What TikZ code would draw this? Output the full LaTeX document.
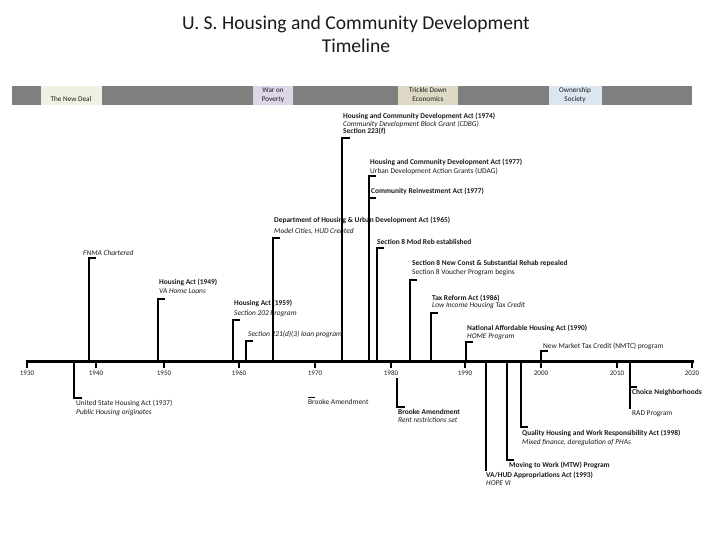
\documentclass[tikz,border=0pt]{standalone}
\usepackage{fontspec}
\setmainfont{Carlito}
\definecolor{bandgray}{HTML}{7F7F7F}
\definecolor{newdeal}{HTML}{EEF2E0}
\definecolor{waronpov}{HTML}{DDD5E8}
\definecolor{trickle}{HTML}{DDD9C4}
\definecolor{ownsoc}{HTML}{DCE6F1}
\definecolor{txt}{HTML}{1A1A1A}
\tikzset{
  lbl/.style={font=\fontsize{7.4}{8}\selectfont, text=txt, anchor=west, inner sep=0pt, text height=5pt, text depth=1.5pt},
  lblb/.style={lbl, font=\fontsize{7.4}{8}\selectfont\bfseries},
  lbli/.style={lbl, font=\fontsize{7.4}{8}\selectfont\itshape},
  bandtxt/.style={font=\fontsize{7.2}{8}\selectfont, text=txt, inner sep=0pt, text height=5pt, text depth=1.5pt},
  yearlbl/.style={font=\fontsize{7}{8}\selectfont, text=txt, inner sep=0pt, text height=4.8pt, text depth=0pt},
  conn/.style={draw=black, line width=1.5pt},
  connthick/.style={draw=black, line width=2.5pt},
  tick/.style={draw=black, line width=2.6pt},
}
\begin{document}
\begin{tikzpicture}[x=1pt, y=-1pt]
\useasboundingbox (0,0) rectangle (720,540);
\fill[white] (0,0) rectangle (720,540);
% title
\node[font=\fontsize{19.6}{23}\selectfont, text=txt, align=center, inner sep=0pt] (title) at (356,34) {U. S. Housing and Community Development\\Timeline};
% band
\fill[bandgray] (12,86) rectangle (692,105);
\fill[newdeal] (41,86) rectangle (102,105);
\fill[waronpov] (253,86) rectangle (293,105);
\fill[trickle] (398,86) rectangle (458,105);
\fill[ownsoc] (549,86) rectangle (602,105);
\node[bandtxt] (nd) at (71,100) {The New Deal};
\node[bandtxt] (wp1) at (273,91) {War on};
\node[bandtxt] (wp2) at (273,100) {Poverty};
\node[bandtxt] (te1) at (428,91) {Trickle Down};
\node[bandtxt] (te2) at (428,100) {Economics};
\node[bandtxt] (os1) at (575,91) {Ownership};
\node[bandtxt] (os2) at (575,100) {Society};
% axis
\coordinate (axL) at (26,361);
\coordinate (axR) at (694,361);
\draw[line width=3pt] (axL) -- (axR);
\foreach \yr/\xx in {1930/27,1940/96,1950/164,1960/239,1970/315,1980/391,1990/465,2000/541,2010/617,2020/692}{
  \coordinate (tk\yr) at (\xx,361);
  \coordinate (tb\yr) at (\xx,368);
  \draw[tick] (tk\yr) -- (tb\yr);
  \node[yearlbl] (yl\yr) at (\xx,373) {\yr};
}
% upper events
\coordinate (a38) at (89,361); \coordinate (c38) at (96,258);
\draw[conn] (a38) |- (c38);
\node[lbli] (t38) at (83,254) {FNMA Chartered};

\coordinate (a49) at (158,361); \coordinate (c49) at (165,299);
\draw[conn] (a49) |- (c49);
\node[lblb] (t49a) at (159,283) {Housing Act (1949)};
\node[lbli] (t49b) at (159,292) {VA Home Loans};

\coordinate (a59) at (233,361); \coordinate (c59) at (240,320);
\draw[conn] (a59) |- (c59);
\node[lblb] (t59a) at (234,304) {Housing Act (1959)};
\node[lbli] (t59b) at (234,314) {Section 202 Program};

\coordinate (a61) at (246,361); \coordinate (c61) at (253,341);
\draw[conn] (a61) |- (c61);
\node[lbli] (t61) at (248,335) {Section 221(d)(3) loan program};

\coordinate (a65) at (273,361); \coordinate (c65) at (280,238);
\draw[conn] (a65) |- (c65);
\node[lblb] (t65a) at (274,221) {Department of Housing \& Urban Development Act (1965)};
\node[lbli] (t65b) at (274,232) {Model Cities, HUD Created};

\coordinate (a74) at (342,361); \coordinate (c74) at (350,138);
\draw[connthick] (a74) |- (c74);
\node[lblb] (t74a) at (343,117) {Housing and Community Development Act (1974)};
\node[lbli] (t74b) at (343,125) {Community Development Block Grant (CDBG)};
\node[lblb] (t74c) at (343,132) {Section 223(f)};

\coordinate (a77) at (369,361); \coordinate (c77) at (376,176);
\draw[conn] (a77) |- (c77);
\node[lblb] (t77a) at (370,163) {Housing and Community Development Act (1977)};
\node[lbl] (t77b) at (370,172) {Urban Development Action Grants (UDAG)};

\coordinate (a77b) at (369,361); \coordinate (c77b) at (376,198);
\draw[conn] (a77b) |- (c77b);
\node[lblb] (t77c) at (371,192) {Community Reinvestment Act (1977)};

\coordinate (a78) at (377,361); \coordinate (c78) at (384,248);
\draw[conn] (a78) |- (c78);
\node[lblb] (t78) at (377,243) {Section 8 Mod Reb established};

\coordinate (a83) at (410,361); \coordinate (c83) at (417,280);
\draw[conn] (a83) |- (c83);
\node[lblb] (t83a) at (412,264) {Section 8 New Const \& Substantial Rehab repealed};
\node[lbl] (t83b) at (412,273) {Section 8 Voucher Program begins};

\coordinate (a86) at (431,361); \coordinate (c86) at (438,313);
\draw[conn] (a86) |- (c86);
\node[lblb] (t86a) at (432,299) {Tax Reform Act (1986)};
\node[lbli] (t86b) at (432,306) {Low Income Housing Tax Credit};

\coordinate (a90) at (466,361); \coordinate (c90) at (473,342);
\draw[conn] (a90) |- (c90);
\node[lblb] (t90a) at (467,329) {National Affordable Housing Act (1990)};
\node[lbli] (t90b) at (467,337) {HOME Program};

\coordinate (a00) at (541,361); \coordinate (c00) at (548,351);
\draw[conn] (a00) |- (c00);
\node[lbl] (t00) at (543,347) {New Market Tax Credit (NMTC) program};

% lower events
\coordinate (a37) at (74,361); \coordinate (c37) at (82,398);
\draw[conn] (a37) |- (c37);
\node[lbl] (t37a) at (76,404) {United State Housing Act (1937)};
\node[lbli] (t37b) at (76,413) {Public Housing originates};

\coordinate (d69a) at (308,397); \coordinate (d69b) at (315,397);
\draw[line width=1pt] (d69a) -- (d69b);
\node[lbl] (t69) at (308,403) {Brooke Amendment};

\coordinate (a81) at (397,378); \coordinate (c81) at (405,407);
\draw[conn] (a81) |- (c81);
\node[lblb] (t81a) at (398,413) {Brooke Amendment};
\node[lbli] (t81b) at (398,421) {Rent restrictions set};

\coordinate (a93) at (486,361); \coordinate (c93) at (486,471);
\draw[conn] (a93) -- (c93);
\node[lblb] (t93a) at (486,476) {VA/HUD Appropriations Act (1993)};
\node[lbli] (t93b) at (486,484) {HOPE VI};

\coordinate (a96) at (507,361); \coordinate (c96) at (514,460);
\draw[conn] (a96) |- (c96);
\node[lblb] (t96) at (509,466) {Moving to Work (MTW) Program};

\coordinate (a98) at (521,361); \coordinate (c98) at (528,427);
\draw[conn] (a98) |- (c98);
\node[lblb] (t98a) at (522,434) {Quality Housing and Work Responsibility Act (1998)};
\node[lbli] (t98b) at (522,443) {Mixed finance, deregulation of PHAs};

\coordinate (a10) at (630,361); \coordinate (c10) at (637,387); \coordinate (e10) at (630,409);
\draw[connthick] (a10) -- (e10);
\draw[conn] (c10 -| a10) -- (c10);
\node[lblb] (t10a) at (632,393) {Choice Neighborhoods};
\node[lbl] (t10b) at (632,414) {RAD Program};
\end{tikzpicture}
\end{document}
